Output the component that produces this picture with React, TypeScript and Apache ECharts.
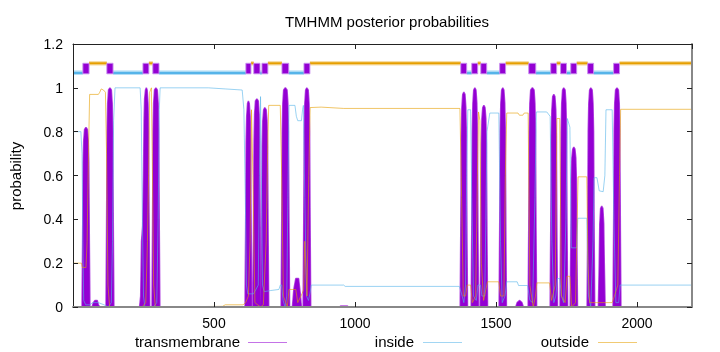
import React, { useEffect, useRef } from 'react';
import * as echarts from 'echarts';

const SEQ_LENGTH = 2195;
const TITLE = 'TMHMM posterior probabilities';
const Y_NAME = 'probability';
const legendNames = ['transmembrane', 'inside', 'outside'];

// topology bar (residue ranges)
const tmSegments = [
  [35, 57], [120, 142], [248, 269], [283, 305], [613, 631], [641, 663], [670, 691],
  [741, 765], [819, 840], [1375, 1396], [1414, 1435], [1446, 1467], [1513, 1534],
  [1616, 1641], [1694, 1715], [1729, 1750], [1765, 1786], [1825, 1846], [1917, 1938],
];
const insideSegments = [
  [1, 35], [142, 248], [305, 613], [663, 670], [765, 819], [1396, 1414],
  [1467, 1513], [1641, 1694], [1750, 1765], [1846, 1917],
];
const outsideSegments = [
  [57, 120], [269, 283], [631, 641], [691, 741], [840, 1375], [1435, 1446],
  [1534, 1616], [1715, 1729], [1786, 1825], [1938, 2195],
];

// posterior probabilities [residue, probability]
const transmembrane = [
  [0, 0],
  [32, 0], [34, 0.29], [36, 0.66], [38, 0.76], [41, 0.81], [46, 0.82], [51, 0.81], [54, 0.76], [56, 0.66], [58, 0.29], [60, 0],
  [68, 0], [72, 0.02], [78, 0.03], [86, 0.03], [90, 0.01], [95, 0],
  [117, 0], [119, 0.35], [121, 0.8], [123, 0.93], [126, 0.99], [131, 1], [136, 0.99], [139, 0.93], [141, 0.8], [143, 0.35], [145, 0],
  [236, 0], [240, 0.05], [243, 0.3], [247, 0.37], [250, 0.6], [252, 0.85], [254, 0.95], [257, 0.99], [260, 1], [263, 0.99], [266, 0.93], [268, 0.8], [270, 0.35], [272, 0],
  [280, 0], [282, 0.35], [284, 0.8], [286, 0.93], [289, 0.99], [294, 1], [299, 0.99], [302, 0.93], [304, 0.8], [306, 0.35], [308, 0],
  [610, 0], [612, 0.33], [614, 0.75], [616, 0.87], [619, 0.93], [622, 0.94], [625, 0.93], [628, 0.87], [630, 0.75], [632, 0.33], [634, 0],
  [638, 0], [640, 0.33], [642, 0.76], [644, 0.88], [647, 0.94], [652, 0.95], [657, 0.94], [660, 0.88], [662, 0.76], [664, 0.33], [666, 0],
  [667, 0], [669, 0.32], [671, 0.73], [673, 0.85], [676, 0.9], [680, 0.91], [685, 0.9], [688, 0.85], [690, 0.73], [692, 0.32], [694, 0],
  [738, 0], [740, 0.35], [742, 0.8], [744, 0.93], [747, 0.99], [753, 1], [759, 0.99], [762, 0.93], [764, 0.8], [766, 0.35], [768, 0],
  [778, 0], [783, 0.08], [790, 0.13], [800, 0.13], [806, 0.06], [810, 0],
  [816, 0], [818, 0.35], [820, 0.8], [822, 0.93], [825, 0.99], [829, 1], [834, 0.99], [837, 0.93], [839, 0.8], [841, 0.35], [843, 0],
  [945, 0], [950, 0.005], [972, 0.005], [977, 0],
  [1373, 0], [1375, 0.34], [1377, 0.78], [1379, 0.91], [1382, 0.97], [1386, 0.98], [1390, 0.97], [1393, 0.91], [1395, 0.78], [1397, 0.34], [1399, 0],
  [1412, 0], [1414, 0.35], [1416, 0.8], [1418, 0.93], [1421, 0.99], [1425, 1], [1429, 0.99], [1432, 0.93], [1434, 0.8], [1436, 0.35], [1438, 0],
  [1444, 0], [1446, 0.32], [1448, 0.74], [1450, 0.86], [1453, 0.91], [1457, 0.92], [1461, 0.91], [1464, 0.86], [1466, 0.74], [1468, 0.32], [1470, 0],
  [1511, 0], [1513, 0.35], [1515, 0.8], [1517, 0.93], [1520, 0.99], [1524, 1], [1528, 0.99], [1531, 0.93], [1533, 0.8], [1535, 0.35], [1537, 0],
  [1570, 0], [1575, 0.02], [1584, 0.03], [1592, 0.02], [1597, 0],
  [1614, 0], [1616, 0.35], [1618, 0.8], [1620, 0.93], [1623, 0.99], [1629, 1], [1635, 0.99], [1638, 0.93], [1640, 0.8], [1642, 0.35], [1644, 0],
  [1692, 0], [1694, 0.34], [1696, 0.78], [1698, 0.9], [1701, 0.96], [1705, 0.97], [1709, 0.96], [1712, 0.9], [1714, 0.78], [1716, 0.34], [1718, 0],
  [1727, 0], [1729, 0.35], [1731, 0.8], [1733, 0.93], [1736, 0.99], [1740, 1], [1745, 0.99], [1748, 0.93], [1750, 0.8], [1752, 0.35], [1754, 0],
  [1763, 0], [1765, 0.26], [1767, 0.58], [1769, 0.68], [1772, 0.72], [1776, 0.73], [1780, 0.72], [1783, 0.68], [1785, 0.58], [1787, 0.26], [1789, 0],
  [1823, 0], [1825, 0.35], [1827, 0.8], [1829, 0.93], [1832, 0.99], [1836, 1], [1841, 0.99], [1844, 0.93], [1846, 0.8], [1848, 0.35], [1850, 0],
  [1863, 0], [1866, 0.2], [1868, 0.38], [1871, 0.45], [1875, 0.46], [1879, 0.45], [1882, 0.38], [1884, 0.2], [1887, 0],
  [1915, 0], [1917, 0.35], [1919, 0.8], [1921, 0.93], [1924, 0.99], [1929, 1], [1934, 0.99], [1937, 0.93], [1939, 0.8], [1941, 0.35], [1943, 0],
  [2195, 0],
];

const inside = [
  [1, 0.8], [28, 0.8], [32, 0.7], [35, 0.3], [38, 0.03], [45, 0.01], [60, 0.01], [70, 0.02], [90, 0.02],
  [110, 0.01], [125, 0], [136, 0.02], [140, 0.3], [144, 0.85], [149, 1], [238, 1], [242, 0.9], [246, 0.4],
  [250, 0.05], [255, 0], [285, 0], [297, 0.02], [302, 0.4], [306, 0.9], [309, 1], [480, 1], [540, 0.995],
  [600, 0.99], [606, 0.9], [611, 0.5], [615, 0.1], [620, 0.06], [640, 0.06], [657, 0.1], [661, 0.6],
  [665, 0.96], [668, 0.6], [672, 0.1], [678, 0.07], [700, 0.075], [730, 0.08], [735, 0.1], [740, 0.1],
  [745, 0.03], [752, 0], [758, 0.05], [762, 0.5], [766, 0.92], [787, 0.92], [792, 0.87], [797, 0.85],
  [810, 0.85], [814, 0.9], [817, 0.92], [822, 0.5], [828, 0.05], [835, 0.03], [840, 0.06], [845, 0.1],
  [960, 0.1], [965, 0.094], [1370, 0.094], [1378, 0.06], [1386, 0.02], [1392, 0.1], [1396, 0.6],
  [1400, 0.9], [1410, 0.9], [1414, 0.5], [1420, 0.05], [1430, 0.03], [1436, 0.1], [1445, 0.1],
  [1450, 0.05], [1460, 0.05], [1464, 0.4], [1468, 0.8], [1478, 0.885], [1510, 0.885], [1516, 0.3],
  [1522, 0.02], [1532, 0.05], [1538, 0.115], [1575, 0.115], [1580, 0.098], [1612, 0.098], [1620, 0.03],
  [1630, 0.02], [1638, 0.5], [1643, 0.89], [1680, 0.89], [1692, 0.87], [1698, 0.3], [1705, 0.02],
  [1712, 0.05], [1718, 0.13], [1726, 0.13], [1732, 0.05], [1740, 0.02], [1748, 0.4], [1753, 0.86],
  [1762, 0.82], [1767, 0.27], [1786, 0.27], [1790, 0.405], [1822, 0.405], [1828, 0.05], [1836, 0],
  [1844, 0.3], [1848, 0.59], [1858, 0.59], [1866, 0.53], [1880, 0.526], [1886, 0.6], [1890, 0.9],
  [1912, 0.9], [1918, 0.4], [1925, 0.02], [1935, 0.02], [1940, 0.1], [2195, 0.1],
];

const outside = [
  [1, 0.2], [30, 0.2], [33, 0.18], [46, 0.18], [50, 0.3], [55, 0.7], [59, 0.97], [90, 0.97], [95, 0.98],
  [100, 0.995], [108, 0.99], [115, 0.98], [119, 0.7], [124, 0.1], [130, 0], [245, 0], [258, 0.02],
  [264, 0.3], [268, 0.6], [272, 0.98], [278, 1], [281, 0.7], [286, 0.1], [292, 0], [530, 0.003],
  [540, 0.01], [603, 0.01], [612, 0.02], [622, 0.05], [628, 0.3], [633, 0.9], [638, 0.6], [645, 0.02],
  [655, 0.01], [665, 0], [675, 0.01], [685, 0.3], [690, 0.7], [694, 0.92], [735, 0.92], [740, 0.6],
  [746, 0.05], [760, 0], [766, 0.08], [790, 0.08], [797, 0.02], [812, 0.06], [818, 0.08], [822, 0.3],
  [830, 0.05], [836, 0.6], [841, 0.91], [880, 0.912], [960, 0.906], [1372, 0.906], [1378, 0.5],
  [1384, 0.05], [1392, 0.05], [1398, 0.1], [1410, 0.1], [1416, 0.02], [1428, 0.05], [1434, 0.6],
  [1438, 0.89], [1443, 0.85], [1448, 0.2], [1456, 0.03], [1464, 0.08], [1470, 0.115], [1510, 0.115],
  [1516, 0.05], [1528, 0.05], [1533, 0.6], [1538, 0.885], [1578, 0.885], [1583, 0.875], [1595, 0.875],
  [1600, 0.885], [1614, 0.885], [1620, 0.1], [1632, 0], [1640, 0.05], [1645, 0.11], [1690, 0.11],
  [1697, 0.03], [1710, 0.1], [1716, 0.86], [1726, 0.86], [1732, 0.05], [1745, 0.02], [1752, 0.14],
  [1762, 0.14], [1768, 0], [1782, 0.02], [1788, 0.4], [1791, 0.594], [1822, 0.594], [1826, 0.2],
  [1832, 0.02], [1848, 0.02], [1880, 0.02], [1912, 0.02], [1920, 0.05], [1932, 0.1], [1938, 0.6],
  [1942, 0.902], [2195, 0.902],
];

const FONT = '"Liberation Sans", Arial, Helvetica, sans-serif';
const TM_COLOR = '#9400D3';
const IN_COLOR = '#56B4E9';
const OUT_COLOR = '#E69F00';

export default function App() {
  const ref = useRef<HTMLDivElement>(null);
  useEffect(() => {
    const chart = echarts.init(ref.current as HTMLDivElement, null, { renderer: 'svg' });
    const tickStyle = { show: true, inside: true, length: 5, lineStyle: { color: '#222', width: 1 } };
    const legendText = (text: string, x: number) => ({
      type: 'text', x, y: 341,
      style: { text, font: `15px ${FONT}`, fill: '#000', align: 'right', textAlign: 'right', verticalAlign: 'middle', textVerticalAlign: 'middle' },
    });
    const legendLine = (x: number, color: string) => ({
      type: 'line', shape: { x1: x, y1: 342.5, x2: x + 39, y2: 342.5 }, style: { stroke: color, lineWidth: 1 },
    });
    chart.setOption({
      animation: false,
      title: {
        text: TITLE, left: 382, top: 9, textAlign: 'center',
        textStyle: { fontSize: 15, fontWeight: 'normal', color: '#000', fontFamily: FONT },
      },
      grid: { left: 73, right: 28, top: 44, bottom: 45, containLabel: false },
      xAxis: [
        {
          type: 'value', min: 0, max: SEQ_LENGTH, interval: 500, position: 'bottom', z: 5,
          axisLine: { show: true, onZero: false, lineStyle: { color: '#888', width: 2 } },
          axisTick: tickStyle,
          splitLine: { show: false },
          axisLabel: {
            show: true, margin: 9, fontSize: 14, color: '#000', fontFamily: FONT,
            showMinLabel: false, showMaxLabel: false,
            formatter: (v: number) => (v > 0 && v % 500 === 0 ? String(v) : ''),
          },
        },
        {
          type: 'value', min: 0, max: SEQ_LENGTH, interval: 500, position: 'top', z: 5,
          axisLine: { show: true, onZero: false, lineStyle: { color: '#222', width: 1 } },
          axisTick: tickStyle, splitLine: { show: false }, axisLabel: { show: false },
        },
      ],
      yAxis: [
        {
          type: 'value', min: 0, max: 1.2, interval: 0.2, position: 'left', z: 5,
          axisLine: { show: true, onZero: false, lineStyle: { color: '#222', width: 1 } },
          axisTick: tickStyle, splitLine: { show: false },
          axisLabel: { margin: 10, fontSize: 14, color: '#000', fontFamily: FONT },
        },
        {
          type: 'value', min: 0, max: 1.2, interval: 0.2, position: 'right', z: 5,
          axisLine: { show: true, onZero: false, lineStyle: { color: '#888', width: 2 } },
          axisTick: tickStyle, splitLine: { show: false }, axisLabel: { show: false },
        },
      ],
      graphic: [
        {
          type: 'text', x: 15, y: 176, rotation: Math.PI / 2,
          style: { text: Y_NAME, font: `15px ${FONT}`, fill: '#000', align: 'center', textAlign: 'center', verticalAlign: 'middle', textVerticalAlign: 'middle' },
        },
        legendText(legendNames[0], 240), legendLine(248, 'rgba(148,0,211,0.55)'),
        legendText(legendNames[1], 414), legendLine(423, 'rgba(86,180,233,0.55)'),
        legendText(legendNames[2], 589), legendLine(598, 'rgba(230,159,0,0.55)'),
      ],
      series: [
        {
          name: legendNames[0], type: 'line', data: transmembrane, symbol: 'none', z: 2,
          lineStyle: { color: 'rgba(148,0,211,0.7)', width: 1.5 },
          areaStyle: { color: TM_COLOR, opacity: 1 },
        },
        {
          name: legendNames[1], type: 'line', data: inside, symbol: 'none', z: 3,
          lineStyle: { color: 'rgba(86,180,233,0.6)', width: 1 },
        },
        {
          name: legendNames[2], type: 'line', data: outside, symbol: 'none', z: 3,
          lineStyle: { color: 'rgba(230,159,0,0.6)', width: 1 },
        },
        {
          type: 'custom', z: 4, data: insideSegments,
          renderItem: (_p: any, api: any) => {
            const a = api.coord([api.value(0), 1.07]);
            const b = api.coord([api.value(1), 1.07]);
            return {
              type: 'group', children: [
                { type: 'line', shape: { x1: a[0], y1: a[1], x2: b[0], y2: b[1] }, style: { stroke: 'rgba(86,180,233,0.35)', lineWidth: 4.5 } },
                { type: 'line', shape: { x1: a[0], y1: a[1] + 0.5, x2: b[0], y2: b[1] + 0.5 }, style: { stroke: IN_COLOR, lineWidth: 2.5 } },
              ],
            };
          },
        },
        {
          type: 'custom', z: 4, data: outsideSegments,
          renderItem: (_p: any, api: any) => {
            const a = api.coord([api.value(0), 1.112]);
            const b = api.coord([api.value(1), 1.112]);
            return {
              type: 'group', children: [
                { type: 'line', shape: { x1: a[0], y1: a[1], x2: b[0], y2: b[1] }, style: { stroke: 'rgba(230,159,0,0.35)', lineWidth: 4.5 } },
                { type: 'line', shape: { x1: a[0], y1: a[1], x2: b[0], y2: b[1] }, style: { stroke: OUT_COLOR, lineWidth: 2 } },
              ],
            };
          },
        },
        {
          type: 'custom', z: 5, data: tmSegments,
          renderItem: (_p: any, api: any) => {
            const a = api.coord([api.value(0), 1.112]);
            const b = api.coord([api.value(1), 1.064]);
            return {
              type: 'rect',
              shape: { x: a[0], y: a[1], width: b[0] - a[0], height: b[1] - a[1] },
              style: { fill: TM_COLOR, stroke: 'rgba(200,140,240,0.9)', lineWidth: 1 },
            };
          },
        },
      ],
    });
    return () => chart.dispose();
  }, []);
  return <div ref={ref} style={{ position: 'fixed', left: 0, top: 0, width: 720, height: 352 }} />;
}
